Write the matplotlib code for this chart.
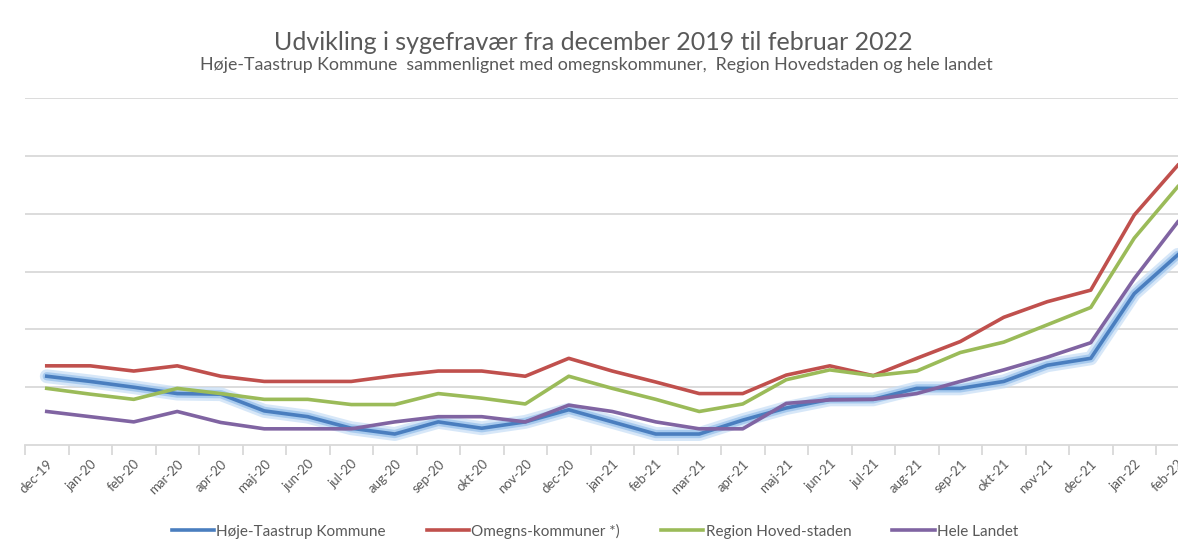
import numpy as np
import matplotlib
matplotlib.use("Agg")
from matplotlib import pyplot as plt

months = ["dec-19", "jan-20", "feb-20", "mar-20", "apr-20", "maj-20", "jun-20", "jul-20",
          "aug-20", "sep-20", "okt-20", "nov-20", "dec-20", "jan-21", "feb-21", "mar-21",
          "apr-21", "maj-21", "jun-21", "jul-21", "aug-21", "sep-21", "okt-21", "nov-21",
          "dec-21", "jan-22", "feb-22"]

hoeje_taastrup = [1.19, 1.10, 1.00, 0.89, 0.88, 0.59, 0.49, 0.29, 0.19, 0.40, 0.29, 0.40,
                  0.61, 0.40, 0.19, 0.19, 0.43, 0.64, 0.79, 0.79, 0.98, 0.98, 1.10, 1.38,
                  1.50, 2.62, 3.29]
omegns = [1.37, 1.37, 1.28, 1.37, 1.19, 1.10, 1.10, 1.10, 1.20, 1.28, 1.28, 1.19,
          1.50, 1.28, 1.09, 0.89, 0.89, 1.21, 1.37, 1.20, 1.50, 1.79, 2.21, 2.48,
          2.68, 3.98, 4.84]
region_h = [0.98, 0.88, 0.79, 0.98, 0.89, 0.79, 0.79, 0.70, 0.70, 0.89, 0.81, 0.71,
            1.19, 0.98, 0.79, 0.58, 0.71, 1.13, 1.30, 1.20, 1.28, 1.60, 1.78, 2.08,
            2.38, 3.58, 4.47]
hele_landet = [0.58, 0.49, 0.40, 0.58, 0.39, 0.28, 0.28, 0.28, 0.40, 0.49, 0.49, 0.40,
               0.69, 0.58, 0.40, 0.28, 0.28, 0.72, 0.78, 0.79, 0.89, 1.10, 1.30, 1.52,
               1.77, 2.88, 3.86]

labels = ["Høje-Taastrup Kommune", "Omegns-kommuner *)", "Region Hoved-staden", "Hele Landet"]
colors = ["#4A7EBF", "#C0504D", "#9BBB59", "#8064A2"]

plt.rcParams["font.family"] = ["Lato", "DejaVu Sans"]
grey = "#595959"

fig = plt.figure(figsize=(11.78, 5.55), dpi=100)
# plot area runs past the right edge, like the cropped original
ax = fig.add_axes([25 / 1178, 110 / 555, 1174.5 / 1178, 346.7 / 555])

x = np.arange(len(months))
series = [hoeje_taastrup, omegns, region_h, hele_landet]
for i, (vals, lab, col) in enumerate(zip(series, labels, colors)):
    if i == 0:
        # soft glow under the municipality line
        ax.plot(x, vals, color="#C6DEF6", lw=10, alpha=0.7, solid_capstyle="round", zorder=2)
        ax.plot(x, vals, color="#9CC3EC", lw=6, alpha=0.8, solid_capstyle="round", zorder=2)
    ax.plot(x, vals, color=col, lw=2.6, label=lab, zorder=3, solid_joinstyle="round")

ax.set_xlim(-0.5, len(months) - 0.5)
ax.set_ylim(0, 6)
ax.set_yticks(np.arange(1, 7))
ax.yaxis.grid(True, color="#D9D9D9", lw=1.3)
ax.tick_params(axis="y", left=False, labelleft=False)
for s in ["top", "right", "left"]:
    ax.spines[s].set_visible(False)
ax.spines["bottom"].set_color("#D9D9D9")
ax.spines["bottom"].set_linewidth(1.3)

ax.set_xticks(x)
ax.set_xticklabels(months, rotation=45, ha="right", rotation_mode="anchor",
                   fontsize=9.5, color=grey)
ax.tick_params(axis="x", which="major", length=0, pad=9)
ax.set_xticks(np.arange(-0.5, len(months), 1), minor=True)
ax.tick_params(axis="x", which="minor", length=7, color="#D9D9D9", width=1.3)

fig.text(593 / 1178, 1 - 42 / 555, "Udvikling i sygefravær fra december 2019 til februar 2022",
         ha="center", va="center", fontsize=18, color=grey)
fig.text(596 / 1178, 1 - 65 / 555,
         "Høje-Taastrup Kommune  sammenlignet med omegnskommuner,  Region Hovedstaden og hele landet",
         ha="center", va="center", fontsize=12.75, color=grey)

leg = fig.legend(loc="center", bbox_to_anchor=(595 / 1178, 1 - 531 / 555), ncol=4,
                 frameon=False, fontsize=11, handlelength=2.75, handletextpad=0.15,
                 columnspacing=2.7)
for t in leg.get_texts():
    t.set_color(grey)

fig.savefig("out.png", dpi=100)
